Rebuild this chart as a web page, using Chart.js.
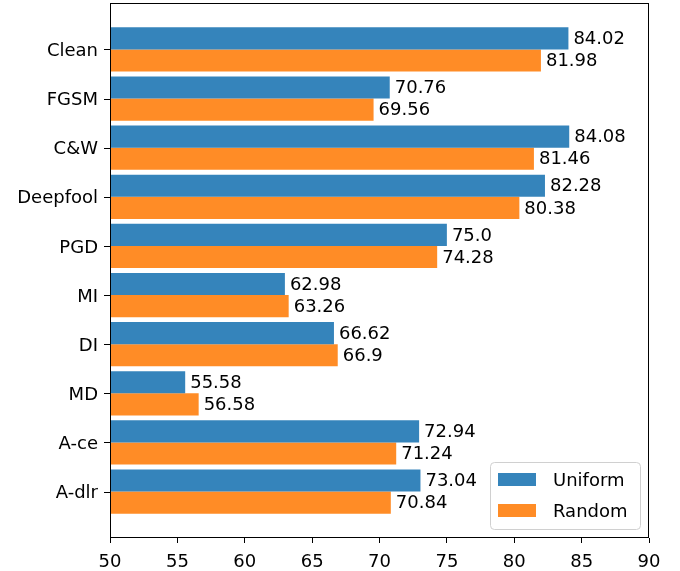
<!DOCTYPE html>
<html>
<head>
<meta charset="utf-8">
<script src="https://cdn.jsdelivr.net/npm/chart.js@4/dist/chart.umd.min.js"></script>
<style>
  html, body { margin: 0; padding: 0; background: #fff; }
  #wrap { width: 680px; height: 571px; position: relative; }
</style>
</head>
<body>
<div id="wrap"><canvas id="chart"></canvas></div>
<script>
// data
const attacks = ['Clean', 'FGSM', 'C&W', 'Deepfool', 'PGD', 'MI', 'DI', 'MD', 'A-ce', 'A-dlr'];
const uniform = [84.02, 70.76, 84.08, 82.28, 75.0, 62.98, 66.62, 55.58, 72.94, 73.04];
const random = [81.98, 69.56, 81.46, 80.38, 74.28, 63.26, 66.9, 56.58, 71.24, 70.84];
const xMin = 50, xMax = 90, xStep = 5;

const blue = 'rgba(31,119,180,0.9)';
const orange = 'rgba(255,127,14,0.9)';

Chart.defaults.font.family = 'DejaVu Sans';
Chart.defaults.font.size = 18;
Chart.defaults.color = '#000';

// python-style float text (75.0 not 75)
function fmt(v) {
    return Number.isInteger(v) ? v.toFixed(1) : String(v);
}

function points(vals) {
    return vals.map((v, i) => ({ x: v, y: i }));
}

const valueLabels = {
    id: 'valueLabels',
    afterDatasetsDraw(chart) {
        const ctx = chart.ctx;
        ctx.save();
        ctx.font = '18px "DejaVu Sans"';
        ctx.fillStyle = '#000';
        ctx.textAlign = 'left';
        ctx.textBaseline = 'middle';
        chart.data.datasets.forEach((ds, di) => {
            chart.getDatasetMeta(di).data.forEach((el, i) => {
                ctx.fillText(fmt(ds.data[i].x), el.x + 5, el.y + 1);
            });
        });
        // category names and tick marks on the y axis
        const ys = chart.scales.y;
        ctx.textAlign = 'right';
        ctx.strokeStyle = '#000';
        ctx.lineWidth = 1;
        ys.ticks.forEach((t) => {
            const name = attacks[t.value];
            if (!name) return;
            const py = ys.getPixelForValue(t.value);
            ctx.fillText(name, ys.right - 12, py + 2);
            ctx.beginPath();
            ctx.moveTo(ys.right - 6, Math.round(py) + 0.5);
            ctx.lineTo(ys.right, Math.round(py) + 0.5);
            ctx.stroke();
        });
        ctx.restore();
    }
};

const frame = {
    id: 'frame',
    afterDraw(chart) {
        const a = chart.chartArea;
        const ctx = chart.ctx;
        ctx.save();
        ctx.strokeStyle = '#000';
        ctx.lineWidth = 1;
        ctx.strokeRect(a.left + 0.5, a.top + 0.5, a.right - a.left - 1, a.bottom - a.top - 1);

        // legend box, lower right inside the axes
        const w = 150, h = 67;
        const x = a.right - 9 - w, y = a.bottom - 9 - h;
        ctx.beginPath();
        ctx.roundRect(x + 0.5, y + 0.5, w, h, 4);
        ctx.fillStyle = 'rgba(255,255,255,0.8)';
        ctx.fill();
        ctx.strokeStyle = '#d0d0d0';
        ctx.stroke();
        ctx.font = '18px "DejaVu Sans"';
        ctx.textBaseline = 'middle';
        chart.data.datasets.forEach((ds, di) => {
            const cy = y + 18 + di * 31;
            ctx.fillStyle = ds.backgroundColor;
            ctx.fillRect(x + 8, cy - 7, 38, 13);
            ctx.fillStyle = '#000';
            ctx.fillText(ds.label, x + 63, cy + 1);
        });
        ctx.restore();
    }
};

new Chart(document.getElementById('chart'), {
    type: 'bar',
    data: {
        datasets: [
            { label: 'Uniform', data: points(uniform), backgroundColor: blue, base: xMin },
            { label: 'Random', data: points(random), backgroundColor: orange, base: xMin }
        ]
    },
    options: {
        indexAxis: 'y',
        responsive: true,
        maintainAspectRatio: false,
        animation: false,
        categoryPercentage: 0.9,
        barPercentage: 1.0,
        layout: { padding: { top: 3, right: 31, left: 0, bottom: 0 } },
        plugins: {
            legend: { display: false },
            tooltip: { enabled: false }
        },
        scales: {
            x: {
                type: 'linear',
                min: xMin,
                max: xMax,
                border: { display: false },
                grid: { drawOnChartArea: false, tickLength: 5, color: '#000' },
                ticks: { stepSize: xStep, padding: 9, color: '#000' },
                afterFit(scale) { scale.height = 33; }
            },
            y: {
                type: 'linear',
                min: -0.945,
                max: 9.945,
                reverse: true,
                offset: false,
                border: { display: false },
                grid: { display: false },
                ticks: {
                    display: false,
                    stepSize: 1,
                    includeBounds: false,
                    autoSkip: false
                },
                afterFit(scale) {
                    scale.width = 110;
                    scale.paddingTop = 0;
                    scale.paddingBottom = 0;
                }
            }
        }
    },
    plugins: [valueLabels, frame]
});
</script>
</body>
</html>
